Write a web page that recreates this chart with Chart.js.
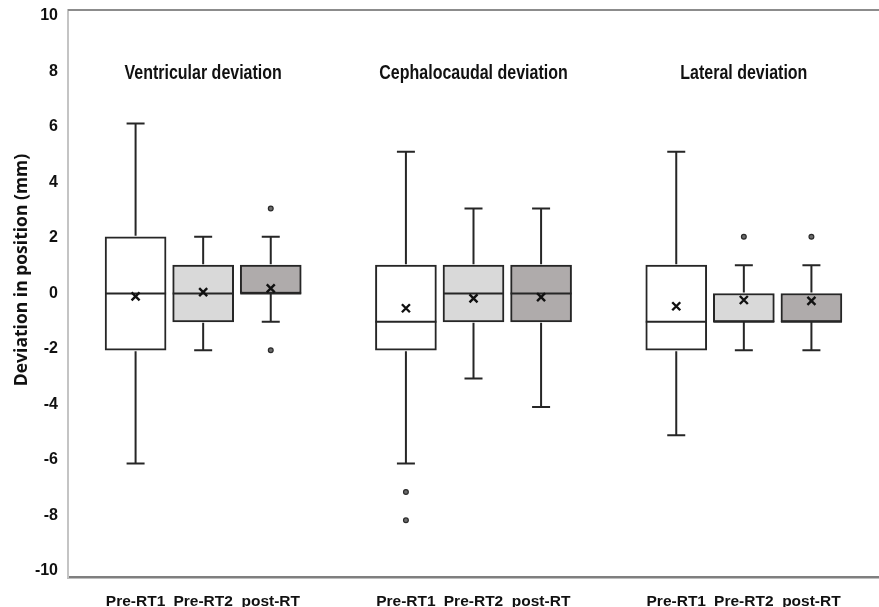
<!DOCTYPE html>
<html>
<head>
<meta charset="utf-8">
<script src="https://cdn.jsdelivr.net/npm/chart.js@4.4.1/dist/chart.umd.min.js"></script>
<style>
  html, body { margin: 0; padding: 0; background: #ffffff; }
  #wrap { width: 879px; height: 607px; position: relative; }
</style>
</head>
<body>
<div id="wrap"><canvas id="c" width="879" height="607"></canvas></div>
<script>
// ---- Data ----
const groups = ['Ventricular deviation', 'Cephalocaudal deviation', 'Lateral deviation'];
const phases = ['Pre-RT1', 'Pre-RT2', 'post-RT'];
// nine boxes: group-major order (Ventricular x3, Cephalocaudal x3, Lateral x3)
const whiskerLow  = [-6, -2, -1,   -6, -3, -4,   -5, -2, -2];
const q1          = [-2, -1,  0,   -2, -1, -1,   -2, -1, -1];
const median      = [ 0,  0,  0,   -1,  0,  0,   -1, -1, -1];
const q3          = [ 2,  1,  1,    1,  1,  1,    1,  0,  0];
const whiskerHigh = [ 6,  2,  2,    5,  3,  3,    5,  1,  1];
const mean        = [-0.1, 0.05, 0.18,  -0.52, -0.17, -0.13,  -0.45, -0.23, -0.26];
const outliers    = [[], [], [3, -2],  [-7, -8], [], [],  [], [2], [2]];
const yTickValues = [-10, -8, -6, -4, -2, 0, 2, 4, 6, 8, 10];
const yTitle = 'Deviation in position (mm)';

// ---- Build category slots (empty spacer slots between groups) ----
const slotLabels = [''];
const slotOfBox = [];
groups.forEach((g, gi) => {
  phases.forEach((p) => { slotOfBox.push(slotLabels.length); slotLabels.push(p); });
  slotLabels.push('');
});
const phaseColors = ['#ffffff', '#d9d9d9', '#afabab'];
const boxData = slotLabels.map(() => null);
const boxColors = slotLabels.map(() => '#ffffff');
slotOfBox.forEach((s, i) => { boxData[s] = [q1[i], q3[i]]; boxColors[s] = phaseColors[i % 3]; });

const INK = '#262626';
const yMin = yTickValues[0], yMax = yTickValues[yTickValues.length - 1];

const extras = {
  id: 'boxExtras',
  afterDatasetsDraw(chart) {
    const ctx = chart.ctx;
    const xs = chart.scales.x, ys = chart.scales.y;
    const meta = chart.getDatasetMeta(0);
    ctx.save();
    ctx.strokeStyle = INK;
    ctx.lineWidth = 2;
    slotOfBox.forEach((s, i) => {
      const x = xs.getPixelForValue(s);
      const bw = meta.data[s].width;
      const cap = 9;
      const yq1 = ys.getPixelForValue(q1[i]), yq3 = ys.getPixelForValue(q3[i]);
      const ylo = ys.getPixelForValue(whiskerLow[i]), yhi = ys.getPixelForValue(whiskerHigh[i]);
      ctx.beginPath();
      if (whiskerHigh[i] > q3[i]) {
        ctx.moveTo(x, yq3 - 1); ctx.lineTo(x, yhi);
        ctx.moveTo(x - cap, yhi); ctx.lineTo(x + cap, yhi);
      }
      if (whiskerLow[i] < q1[i]) {
        ctx.moveTo(x, yq1 + 1); ctx.lineTo(x, ylo);
        ctx.moveTo(x - cap, ylo); ctx.lineTo(x + cap, ylo);
      }
      const ym = ys.getPixelForValue(median[i]);
      ctx.moveTo(x - bw / 2, ym); ctx.lineTo(x + bw / 2, ym);
      ctx.stroke();
      // mean cross
      const ymean = ys.getPixelForValue(mean[i]);
      ctx.beginPath();
      ctx.lineWidth = 2.4;
      ctx.strokeStyle = '#111111';
      ctx.moveTo(x - 4, ymean - 4); ctx.lineTo(x + 4, ymean + 4);
      ctx.moveTo(x - 4, ymean + 4); ctx.lineTo(x + 4, ymean - 4);
      ctx.stroke();
      ctx.lineWidth = 2;
      ctx.strokeStyle = INK;
      // outliers
      outliers[i].forEach(v => {
        const yo = ys.getPixelForValue(v);
        ctx.beginPath();
        ctx.arc(x, yo, 2.4, 0, Math.PI * 2);
        ctx.fillStyle = '#6b6b6b';
        ctx.fill();
        ctx.lineWidth = 1.2;
        ctx.strokeStyle = '#2a2a2a';
        ctx.stroke();
        ctx.lineWidth = 2;
        ctx.strokeStyle = INK;
      });
    });
    // group titles (bold, horizontally condensed)
    ctx.fillStyle = '#111111';
    ctx.font = 'bold 19.5px "Liberation Sans", Arial, sans-serif';
    ctx.textAlign = 'center';
    ctx.textBaseline = 'middle';
    groups.forEach((g, gi) => {
      const x = xs.getPixelForValue(slotOfBox[gi * 3 + 1]);
      const y = ys.getPixelForValue(7.75);
      ctx.save();
      ctx.translate(x, y);
      ctx.scale(0.82, 1);
      ctx.fillText(g, 0, 0);
      ctx.restore();
    });
    // top border of plot area
    ctx.beginPath();
    ctx.strokeStyle = '#8c8c8c';
    ctx.lineWidth = 2;
    ctx.moveTo(chart.chartArea.left, chart.chartArea.top);
    ctx.lineTo(chart.chartArea.right, chart.chartArea.top);
    ctx.stroke();
    // y title
    ctx.save();
    ctx.translate(22, 270);
    ctx.rotate(-Math.PI / 2);
    ctx.font = 'bold 17.5px "Open Sans", sans-serif';
    ctx.fillStyle = '#111111';
    ctx.fillText(yTitle, 0, 0);
    ctx.restore();
    ctx.restore();
  }
};

new Chart(document.getElementById('c'), {
  type: 'bar',
  data: {
    labels: slotLabels,
    datasets: [{
      data: boxData,
      yAxisID: 'y',
      backgroundColor: boxColors,
      borderColor: INK,
      borderWidth: 2,
      borderSkipped: false,
      barThickness: 61
    }]
  },
  options: {
    responsive: false,
    animation: false,
    events: [],
    layout: { padding: { top: 10, right: 0, left: 0, bottom: 0 } },
    plugins: { legend: { display: false }, tooltip: { enabled: false } },
    scales: {
      x: {
        type: 'category',
        offset: false,
        grid: { display: false, drawTicks: false },
        border: { display: true, color: '#7f7f7f', width: 2.5 },
        ticks: {
          autoSkip: false, maxRotation: 0, padding: 15,
          color: '#111111',
          font: { family: '"Liberation Sans", Arial, sans-serif', size: 15.5, weight: 'bold' }
        },
        afterFit(scale) { scale.height = 30; scale.paddingLeft = 0; scale.paddingRight = 0; }
      },
      // data axis (values of the boxes)
      y: {
        display: false,
        min: yMin, max: yMax
      },
      // label axis: the reference's tick labels sit slightly compressed toward the centre
      yl: {
        position: 'left',
        min: yMin * 1.0216, max: yMax * 1.0216,
        grid: { display: false, drawTicks: false },
        border: { display: true, color: '#c4c4c4', width: 2 },
        afterBuildTicks(scale) { scale.ticks = yTickValues.map(v => ({ value: v })); },
        ticks: {
          padding: 10, color: '#111111',
          font: { family: '"Liberation Sans", Arial, sans-serif', size: 16, weight: 'bold' }
        },
        afterFit(scale) { scale.width = 68; scale.paddingTop = 0; scale.paddingBottom = 0; }
      }
    }
  },
  plugins: [extras]
});
</script>
</body>
</html>
